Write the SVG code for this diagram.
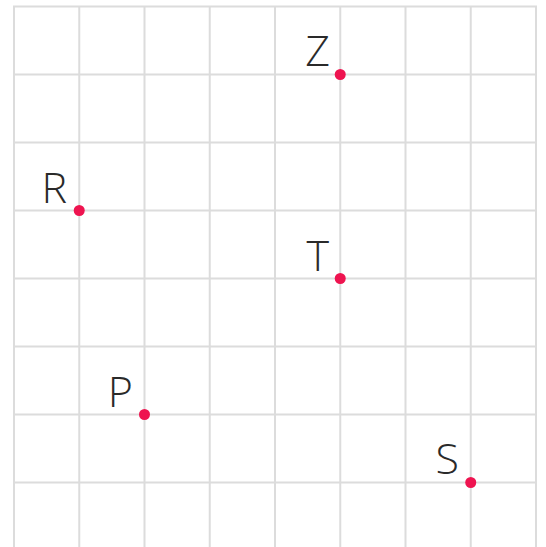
<svg xmlns="http://www.w3.org/2000/svg" width="546" height="547" viewBox="0 0 546 547">
<style>
.grid line{stroke:#dcdcdc;stroke-width:2}
.pt circle{fill:#ee1450}
.pt text{font-family:"Open Sans","Liberation Sans",sans-serif;font-weight:300;font-size:43px;fill:#2a2a2a;text-anchor:end}
</style>
<rect width="546" height="547" fill="#fff"/>
<g class="grid" id="grid">
<line x1="14" y1="6.5" x2="14" y2="547"/>
<line x1="79.25" y1="6.5" x2="79.25" y2="547"/>
<line x1="144.5" y1="6.5" x2="144.5" y2="547"/>
<line x1="209.75" y1="6.5" x2="209.75" y2="547"/>
<line x1="275" y1="6.5" x2="275" y2="547"/>
<line x1="340.25" y1="6.5" x2="340.25" y2="547"/>
<line x1="405.5" y1="6.5" x2="405.5" y2="547"/>
<line x1="470.75" y1="6.5" x2="470.75" y2="547"/>
<line x1="536" y1="6.5" x2="536" y2="547"/>
<line x1="13" y1="6.5" x2="537" y2="6.5"/>
<line x1="13" y1="74.5" x2="537" y2="74.5"/>
<line x1="13" y1="142.5" x2="537" y2="142.5"/>
<line x1="13" y1="210.5" x2="537" y2="210.5"/>
<line x1="13" y1="278.5" x2="537" y2="278.5"/>
<line x1="13" y1="346.5" x2="537" y2="346.5"/>
<line x1="13" y1="414.5" x2="537" y2="414.5"/>
<line x1="13" y1="482.5" x2="537" y2="482.5"/>
</g>
<g class="pt" id="Z"><circle cx="340.25" cy="74.5" r="5.5"/><text x="330" y="66">Z</text></g>
<g class="pt" id="R"><circle cx="79.25" cy="210.5" r="5.5"/><text x="67" y="203">R</text></g>
<g class="pt" id="T"><circle cx="340.25" cy="278.5" r="5.5"/><text x="329" y="271">T</text></g>
<g class="pt" id="P"><circle cx="144.5" cy="414.5" r="5.5"/><text x="133" y="407">P</text></g>
<g class="pt" id="S"><circle cx="470.75" cy="482.5" r="5.5"/><text x="459" y="474">S</text></g>
</svg>
